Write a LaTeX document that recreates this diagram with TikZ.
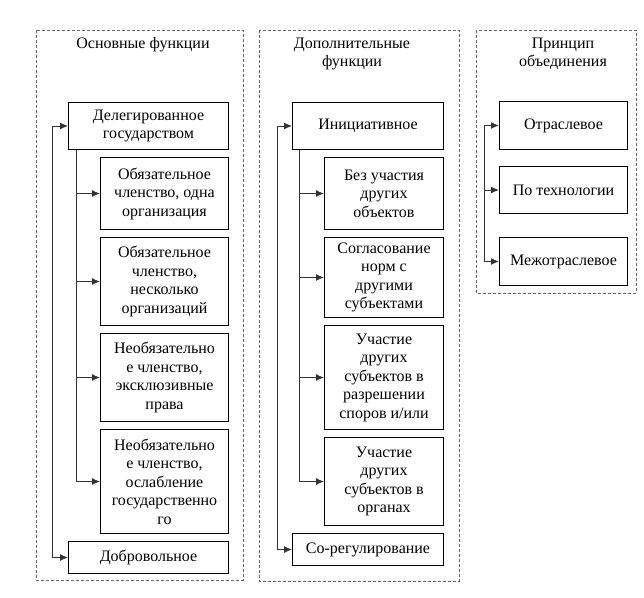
\documentclass[tikz,border=0pt]{standalone}
\usepackage{fontspec}
\setmainfont{Liberation Serif}
\usetikzlibrary{arrows.meta,calc}
\begin{document}
\begin{tikzpicture}[x=1pt,y=-1pt,
 every node/.style={font=\fontsize{16}{18.5}\selectfont},
 bx/.style={draw=black, line width=1pt, align=center, inner sep=0pt, anchor=north west},
 ttl/.style={align=center, inner sep=0pt},
 grp/.style={draw=black!60, line width=0.9pt, dash pattern=on 3pt off 2pt},
 arr/.style={line width=1pt, draw=black!80, -{Latex[length=8pt,width=7pt]}},
 darr/.style={line width=1pt, draw=black!80, {Latex[length=8pt,width=7pt]}-{Latex[length=8pt,width=7pt]}}]
\fill[white] (0,0) rectangle (644,597);
\useasboundingbox (0,0) rectangle (644,597);
% groups
\draw[grp] (36,30) rectangle (243,580);
\draw[grp] (259,30) rectangle (459,581);
\draw[grp] (476,30) rectangle (636,293);
% titles
\node[ttl] (t1) at (143,45) {Основные функции};
\node[ttl] (t2) at (352,54) {Дополнительные\\функции};
\node[ttl] (t3) at (563,54) {Принцип\\объединения};
% column 1
\node[bx, minimum width=160pt, minimum height=47pt] (deleg) at (68,102) {Делегированное\\государством};
\node[bx, minimum width=128pt, minimum height=72pt] (a1) at (100,157) {Обязательное\\членство, одна\\организация};
\node[bx, minimum width=128pt, minimum height=88pt] (a2) at (100,237) {Обязательное\\членство,\\несколько\\организаций};
\node[bx, minimum width=128pt, minimum height=88pt] (a3) at (100,333) {Необязательно\\е членство,\\эксклюзивные\\права};
\node[bx, minimum width=128pt, minimum height=104pt] (a4) at (100,429) {Необязательно\\е членство,\\ослабление\\государственно\\го};
\node[bx, minimum width=160pt, minimum height=32pt] (dobr) at (68,541) {Добровольное};
\coordinate (k1) at ($(deleg.south west)+(8,0)$);
\draw[arr] (k1) |- (a4.west);
\foreach \n in {a1,a2,a3} \draw[arr] (k1 |- \n.west) -- (\n.west);
\draw[darr] (deleg.west) -- ++(-16,0) |- (dobr.west);
% column 2
\node[bx, minimum width=151pt, minimum height=47pt] (init) at (292,102) {Инициативное};
\node[bx, minimum width=119pt, minimum height=72pt] (b1) at (324,157) {Без участия\\других\\объектов};
\node[bx, minimum width=119pt, minimum height=80pt] (b2) at (324,237) {Согласование\\норм с\\другими\\субъектами};
\node[bx, minimum width=119pt, minimum height=104pt] (b3) at (324,325) {Участие\\других\\субъектов в\\разрешении\\споров и/или};
\node[bx, minimum width=119pt, minimum height=88pt] (b4) at (324,437) {Участие\\других\\субъектов в\\органах};
\node[bx, minimum width=151pt, minimum height=32pt] (coreg) at (292,533) {Со-регулирование};
\coordinate (k2) at ($(init.south west)+(7,0)$);
\draw[arr] (k2) |- (b4.west);
\foreach \n in {b1,b2,b3} \draw[arr] (k2 |- \n.west) -- (\n.west);
\draw[darr] (init.west) -- ++(-15,0) |- (coreg.west);
% column 3
\node[bx, minimum width=128pt, minimum height=48pt] (c1) at (499,101) {Отраслевое};
\node[bx, minimum width=128pt, minimum height=47pt] (c2) at (499,166) {По технологии};
\node[bx, minimum width=128pt, minimum height=48pt] (c3) at (499,237) {Межотраслевое};
\coordinate (k3) at ($(c1.west)+(-15,0)$);
\draw[arr] (k3) -- (c1.west);
\draw[arr] (k3) |- (c3.west);
\draw[arr] (k3 |- c2.west) -- (c2.west);
\end{tikzpicture}
\end{document}
